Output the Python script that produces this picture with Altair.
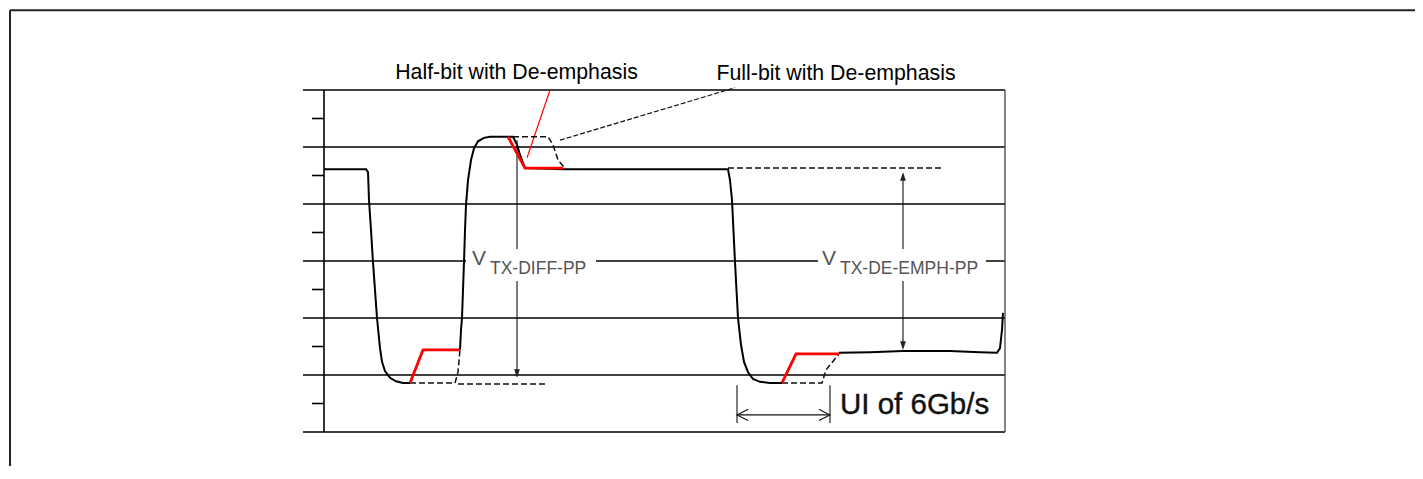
import altair as alt
import pandas as pd

# ---------------- data (x: time units, y: level in grid divisions) ----------------
# solid waveform segments
solid_a_x = [0, 42, 44, 45, 47, 49, 51, 53, 56, 58, 61, 66, 72, 79, 86]
solid_a_y = [4.61, 4.61, 4.56, 4.07, 3.54, 2.98, 2.49, 2.00, 1.47, 1.23, 1.07, 0.95, 0.89, 0.86, 0.86]
solid_b_x = [136, 137, 138, 139, 140, 141, 142, 144, 147, 150, 154, 160, 166, 189, 193, 196, 201, 239,
             404, 406, 408, 411, 414, 417, 420, 424, 429, 436, 446, 458]
solid_b_y = [1.44, 1.79, 2.00, 2.49, 2.98, 3.54, 3.98, 4.42, 4.77, 4.98, 5.10, 5.16, 5.18, 5.18, 5.04, 4.86, 4.63, 4.61,
             4.61, 4.42, 4.07, 2.98, 2.00, 1.53, 1.23, 1.05, 0.93, 0.88, 0.86, 0.86]
solid_c_x = [515, 546, 579, 626, 656, 673, 676, 678, 679]
solid_c_y = [1.39, 1.40, 1.42, 1.42, 1.40, 1.39, 1.47, 1.79, 2.09]

# half-bit de-emphasis (red)
red_1_x = [86, 99, 136]
red_1_y = [0.86, 1.44, 1.44]
red_2_x = [184, 201, 239]
red_2_y = [5.18, 4.63, 4.63]
red_3_x = [458, 472, 515]
red_3_y = [0.86, 1.37, 1.37]

# full-bit de-emphasis (dashed)
dash_1_x = [86, 131, 134, 136]
dash_1_y = [0.86, 0.86, 1.05, 1.44]
dash_2_x = [189, 224, 229, 234, 241]
dash_2_y = [5.18, 5.18, 5.04, 4.77, 4.63]
dash_3_x = [458, 498, 502, 515]
dash_3_y = [0.86, 0.86, 1.09, 1.37]
# reference dashed levels
ref_1_x = [134, 224]
ref_1_y = [0.84, 0.84]
ref_2_x = [404, 619]
ref_2_y = [4.63, 4.63]

# leader lines
lead_full_x = [236, 411]
lead_full_y = [5.12, 6.04]
lead_half_x = [226, 203]
lead_half_y = [6.00, 4.81]

# grid
major_levels = [0, 1, 2, 3, 4, 5, 6]
minor_levels = [0.5, 1.5, 2.5, 3.5, 4.5, 5.5]
grid_left, grid_right = -21, 681

# annotation values
label_texts = ["Half-bit with De-emphasis", "Full-bit with De-emphasis"]
label_x = [192.5, 512]
label_y = [6.19, 6.17]

# ---------------- scales / chart frame ----------------
W, H = 1407, 458
XD = [-316, -316 + W]
YD = [7.4386 - H / 57, 7.4386]
xs = alt.Scale(domain=XD, nice=False, zero=False)
ys = alt.Scale(domain=YD, nice=False, zero=False)


def X(f="x"):
    return alt.X(f"{f}:Q", scale=xs, axis=None)


def Y(f="y"):
    return alt.Y(f"{f}:Q", scale=ys, axis=None)


def segs(*pairs):
    rows = []
    for s, (xx, yy) in enumerate(pairs):
        for i, (a, b) in enumerate(zip(xx, yy)):
            rows.append({"seg": s, "i": i, "x": a, "y": b})
    return pd.DataFrame(rows)


def line_layer(df, **mk):
    return alt.Chart(df).mark_line(**mk).encode(
        x=X(), y=Y(), detail="seg:N", order="i:Q")


layers = []

# outer frame (top + left)
frame = pd.DataFrame([
    {"x": -314, "x2": XD[1], "y": 7.40, "y2": 7.40},
    {"x": -314, "x2": -314, "y": 7.40, "y2": YD[0]},
])
layers.append(alt.Chart(frame).mark_rule(color="#222", strokeWidth=2).encode(
    x=X(), x2="x2:Q", y=Y(), y2="y2:Q"))

# grid
grid_rows = [{"x": grid_left, "x2": grid_right, "y": v, "y2": v} for v in major_levels]
grid_rows += [{"x": -12, "x2": 0, "y": v, "y2": v} for v in minor_levels]
grid_rows += [{"x": 0, "x2": 0, "y": 0, "y2": 6}]
layers.append(alt.Chart(pd.DataFrame(grid_rows)).mark_rule(color="#000", strokeWidth=1.6).encode(
    x=X(), x2="x2:Q", y=Y(), y2="y2:Q"))
layers.append(alt.Chart(pd.DataFrame([{"x": grid_right, "x2": grid_right, "y": 0, "y2": 6}])).mark_rule(
    color="#333", strokeWidth=1.2).encode(x=X(), x2="x2:Q", y=Y(), y2="y2:Q"))

# measurement arrows (lines)
arrow_rows = [
    {"x": 193, "x2": 193, "y": 5.12, "y2": 0.98},
    {"x": 579, "x2": 579, "y": 4.50, "y2": 1.50},
    {"x": 413, "x2": 413, "y": 0.82, "y2": 0.16},
    {"x": 506, "x2": 506, "y": 0.82, "y2": 0.16},
    {"x": 414, "x2": 505, "y": 0.30, "y2": 0.30},
]
layers.append(alt.Chart(pd.DataFrame(arrow_rows)).mark_rule(color="#111", strokeWidth=1.1).encode(
    x=X(), x2="x2:Q", y=Y(), y2="y2:Q"))

down_path = "M0,0 L-0.33,-1 L0.33,-1 Z"
up_path = "M0,0 L-0.33,1 L0.33,1 Z"
layers.append(alt.Chart(pd.DataFrame([{"x": 193, "y": 0.95}, {"x": 579, "y": 1.44}])).mark_point(
    shape=down_path, filled=True, size=300, color="#222", opacity=1).encode(x=X(), y=Y()))
layers.append(alt.Chart(pd.DataFrame([{"x": 579, "y": 4.56}])).mark_point(
    shape=up_path, filled=True, size=300, color="#222", opacity=1).encode(x=X(), y=Y()))
layers.append(alt.Chart(pd.DataFrame([{"x": 413, "y": 0.30}])).mark_point(
    shape="M1,-0.5 L0,0 L1,0.5", filled=False, size=500, color="#111", strokeWidth=1.1, opacity=1).encode(
    x=X(), y=Y()))
layers.append(alt.Chart(pd.DataFrame([{"x": 506, "y": 0.30}])).mark_point(
    shape="M-1,-0.5 L0,0 L-1,0.5", filled=False, size=500, color="#111", strokeWidth=1.1, opacity=1).encode(
    x=X(), y=Y()))

# white boxes behind V labels
boxes = pd.DataFrame([
    {"x": 142, "x2": 272, "y": 3.21, "y2": 2.65},
    {"x": 494, "x2": 662, "y": 3.21, "y2": 2.65},
])
layers.append(alt.Chart(boxes).mark_rect(color="white").encode(x=X(), x2="x2:Q", y=Y(), y2="y2:Q"))

# V labels
vmain = pd.DataFrame([{"x": 148, "y": 2.93, "t": "V"}, {"x": 498, "y": 2.93, "t": "V"}])
layers.append(alt.Chart(vmain).mark_text(align="left", baseline="alphabetic", font="Liberation Sans",
                                         fontSize=21, color="#555").encode(x=X(), y=Y(), text="t:N"))
vsub = pd.DataFrame([{"x": 166, "y": 2.77, "t": "TX-DIFF-PP"}, {"x": 516, "y": 2.77, "t": "TX-DE-EMPH-PP"}])
layers.append(alt.Chart(vsub).mark_text(align="left", baseline="alphabetic", font="Liberation Sans",
                                        fontSize=17.5, color="#555").encode(x=X(), y=Y(), text="t:N"))

# UI label
layers.append(alt.Chart(pd.DataFrame([{"x": 516, "y": 0.47, "t": "UI of 6Gb/s"}])).mark_text(
    align="left", baseline="middle", font="Liberation Sans", fontSize=29.5, color="#111",
    stroke="#111", strokeWidth=0.4).encode(x=X(), y=Y(), text="t:N"))

# top labels
tl = pd.DataFrame({"x": label_x, "y": label_y, "t": label_texts})
layers.append(alt.Chart(tl).mark_text(align="center", baseline="alphabetic", font="Liberation Sans",
                                      fontSize=21.3, color="#000").encode(x=X(), y=Y(), text="t:N"))

# leaders
layers.append(line_layer(segs((lead_full_x, lead_full_y)), color="#111", strokeWidth=1.2, strokeDash=[5, 2]))
layers.append(line_layer(segs((lead_half_x, lead_half_y)), color="#ff0000", strokeWidth=1.2))

# dashed
layers.append(line_layer(segs((dash_1_x, dash_1_y), (dash_2_x, dash_2_y), (dash_3_x, dash_3_y),
                              (ref_1_x, ref_1_y), (ref_2_x, ref_2_y)),
                         color="#111", strokeWidth=1.5, strokeDash=[6, 3]))

# solid waveform
layers.append(line_layer(segs((solid_a_x, solid_a_y), (solid_b_x, solid_b_y), (solid_c_x, solid_c_y)),
                         color="#000", strokeWidth=2, interpolate="linear"))

# red half-bit
layers.append(line_layer(segs((red_1_x, red_1_y), (red_2_x, red_2_y), (red_3_x, red_3_y)),
                         color="#ff0000", strokeWidth=2.8))

chart = alt.layer(*layers).properties(
    width=W, height=H, padding=0, autosize=alt.AutoSizeParams(type="none")
).configure_view(stroke=None)

chart.save("out.html", embed_options={"renderer": "svg", "actions": False})
